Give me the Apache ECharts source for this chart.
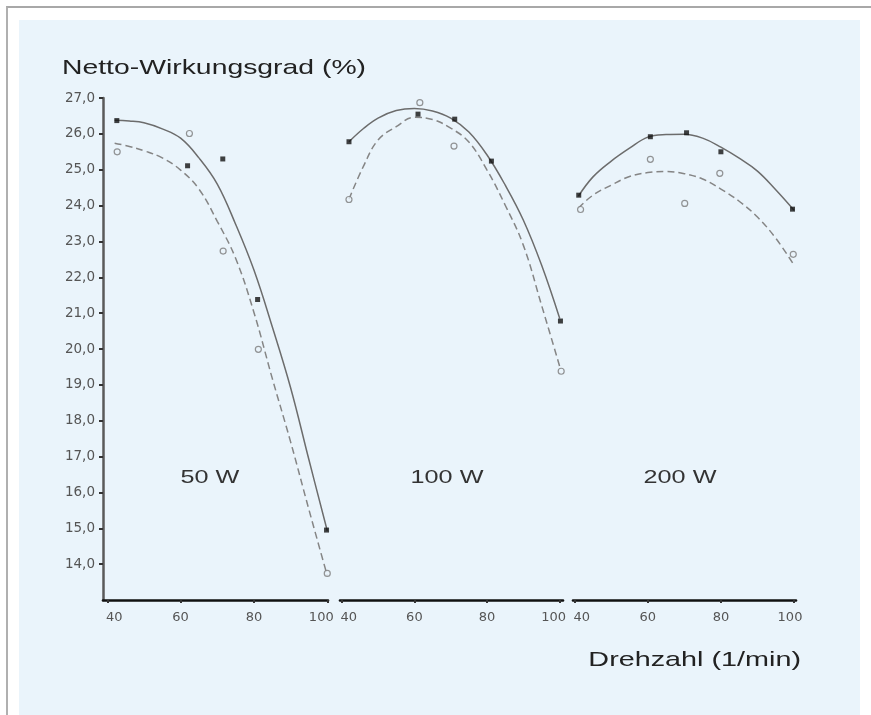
<!DOCTYPE html>
<html>
<head>
<meta charset="utf-8">
<script src="https://cdn.jsdelivr.net/npm/echarts@6/dist/echarts.min.js"></script>
<style>
  body { margin: 0; background: #fff; }
  #rahmen { position: absolute; left: 6px; top: 6px; width: 865px; height: 709px;
            border-top: 2px solid #a8a8a8; border-left: 2px solid #b0b0b0; }
  #feld { position: absolute; left: 19px; top: 20px; width: 841px; height: 695px; background: #eaf4fb; }
  #chart { position: absolute; left: 0; top: 0; width: 871px; height: 715px; }
</style>
</head>
<body>
<div id="rahmen"></div>
<div id="feld"></div>
<div id="chart"></div>
<script>
// ---------- Achsen ----------
const yTicks = [14, 15, 16, 17, 18, 19, 20, 21, 22, 23, 24, 25, 26, 27];
const xTicks = [40, 60, 80, 100];
const panelLabels = ['50 W', '100 W', '200 W'];

// ---------- 50 W ----------
const p50Filled = [[42.6, 26.37], [61.9, 25.11], [71.5, 25.30], [81.0, 21.38], [99.8, 14.95]];
const p50Open = [[42.7, 25.50], [62.4, 26.01], [71.6, 22.73], [81.2, 19.99], [100.0, 13.74]];
const p50FitX = [42, 46, 50, 55, 60, 65, 70, 75, 80, 85, 90, 95, 100];
const p50Solid = [26.38, 26.36, 26.31, 26.14, 25.88, 25.33, 24.60, 23.48, 22.20, 20.62, 18.92, 16.91, 14.93];
const p50Dash = [25.74, 25.65, 25.53, 25.33, 24.99, 24.46, 23.56, 22.53, 21.02, 19.18, 17.41, 15.52, 13.68];

// ---------- 100 W ----------
const p100Filled = [[42.0, 25.78], [61.0, 26.55], [71.1, 26.41], [81.2, 25.24], [100.2, 20.78]];
const p100Open = [[42.0, 24.17], [61.5, 26.87], [70.9, 25.66], [100.4, 19.38]];
const p100FitX = [42, 46, 50, 55, 60, 65, 70, 75, 80, 85, 90, 95, 100];
const p100Solid = [25.78, 26.15, 26.44, 26.65, 26.71, 26.64, 26.44, 26.05, 25.41, 24.57, 23.59, 22.34, 20.85];
const p100Dash = [24.18, 25.10, 25.83, 26.20, 26.46, 26.40, 26.16, 25.77, 24.99, 24.01, 22.89, 21.22, 19.51];

// ---------- 200 W ----------
const p200Filled = [[41.1, 24.29], [60.7, 25.92], [70.6, 26.03], [80.0, 25.50], [99.6, 23.90]];
const p200Open = [[41.6, 23.89], [60.7, 25.29], [70.1, 24.06], [79.7, 24.90], [99.8, 22.64]];
const p200FitX = [41, 45, 50, 55, 60, 65, 70, 75, 80, 85, 90, 95, 100];
const p200Solid = [24.26, 24.80, 25.24, 25.60, 25.91, 25.98, 25.99, 25.88, 25.63, 25.32, 24.96, 24.44, 23.87];
const p200Dash = [23.93, 24.29, 24.57, 24.81, 24.92, 24.95, 24.89, 24.74, 24.46, 24.12, 23.68, 23.09, 22.34];

const panels = [
    { filled: p50Filled, open: p50Open, fitX: p50FitX, solid: p50Solid, dash: p50Dash },
    { filled: p100Filled, open: p100Open, fitX: p100FitX, solid: p100Solid, dash: p100Dash },
    { filled: p200Filled, open: p200Open, fitX: p200FitX, solid: p200Solid, dash: p200Dash }
];

// Layout der drei Teilgrafiken
const grids = [
    { left: 103, top: 98, width: 225, height: 502, xMin: 38.83, xMax: 100.2 },
    { left: 340, top: 98, width: 223, height: 502, xMin: 39.53, xMax: 100.9 },
    { left: 573, top: 98, width: 223, height: 502, xMin: 39.53, xMax: 100.55 }
];
const labelPos = [[210, 478], [447, 478], [680, 478]];

const FONT = 'Liberation Sans, Arial, sans-serif';
const TICKFONT = 'DejaVu Sans, sans-serif';
const BG = '#eaf4fb';

function zip(xs, ys) {
    return xs.map((x, i) => [x, ys[i]]);
}

const series = [];
panels.forEach((p, i) => {
    series.push({
        type: 'line', xAxisIndex: i, yAxisIndex: i,
        data: zip(p.fitX, p.solid), smooth: 0.4, showSymbol: false, silent: true,
        lineStyle: { color: '#6c6c6c', width: 1.5 }, z: 2
    });
    series.push({
        type: 'line', xAxisIndex: i, yAxisIndex: i,
        data: zip(p.fitX, p.dash), smooth: 0.4, showSymbol: false, silent: true,
        lineStyle: { color: '#858585', width: 1.5, type: [7, 4] }, z: 2
    });
    series.push({
        type: 'scatter', xAxisIndex: i, yAxisIndex: i,
        data: p.open, symbol: 'circle', symbolSize: 6,
        itemStyle: { color: BG, borderColor: '#7a7a7a', borderWidth: 1.2 }, z: 3
    });
    series.push({
        type: 'scatter', xAxisIndex: i, yAxisIndex: i,
        data: p.filled, symbol: 'rect', symbolSize: 5,
        itemStyle: { color: '#111' }, z: 4
    });
});

const tickText = { fontSize: 13, color: '#555', fontFamily: TICKFONT };

const chart = echarts.init(document.getElementById('chart'));

chart.setOption({
    animation: false,
    backgroundColor: 'transparent',
    grid: grids.map(g => ({ left: g.left, top: g.top, width: g.width, height: g.height })),
    xAxis: grids.map((g, i) => ({
        type: 'value', gridIndex: i, min: g.xMin, max: g.xMax,
        axisLine: { onZero: false, lineStyle: { color: '#111', width: 2.6 } },
        axisTick: { customValues: xTicks, length: 3, lineStyle: { color: '#333', width: 2 } },
        axisLabel: {
            customValues: xTicks, margin: 11, hideOverlap: false, ...tickText,
            // erstes Label rechts, letztes links vom Tick (wie im Original)
            formatter: v => v === 40 ? '{a|40}' : (v === 100 ? '{b|100}' : String(v)),
            rich: {
                a: { ...tickText, padding: [0, 0, 0, 14] },
                b: { ...tickText, padding: [0, i === 2 ? 8 : 12, 0, 0] }
            }
        },
        splitLine: { show: false }
    })),
    yAxis: grids.map((g, i) => ({
        type: 'value', gridIndex: i, min: 13, max: 27, show: i === 0,
        axisLine: { show: true, onZero: false, lineStyle: { color: '#5a5a5a', width: 2.5 } },
        axisTick: { customValues: yTicks, length: 4, lineStyle: { color: '#333', width: 2 } },
        axisLabel: {
            customValues: yTicks, margin: 8, ...tickText, fontSize: 13.5,
            formatter: v => v.toFixed(1).replace('.', ',')
        },
        splitLine: { show: false }
    })),
    series: series,
    graphic: [
        {
            type: 'text', x: 62, y: 68, scaleX: 1.35,
            style: { text: 'Netto-Wirkungsgrad (%)', font: '21px ' + FONT, fill: '#222', textVerticalAlign: 'middle' }
        },
        {
            type: 'text', x: 801, y: 660, scaleX: 1.37,
            style: { text: 'Drehzahl (1/min)', font: '21px ' + FONT, fill: '#222', textAlign: 'right', textVerticalAlign: 'middle' }
        }
    ].concat(panelLabels.map((t, i) => ({
        type: 'text', x: labelPos[i][0], y: labelPos[i][1], scaleX: 1.4,
        style: { text: t, font: '18px ' + FONT, fill: '#333', textAlign: 'center', textVerticalAlign: 'middle' }
    })))
});
</script>
</body>
</html>
